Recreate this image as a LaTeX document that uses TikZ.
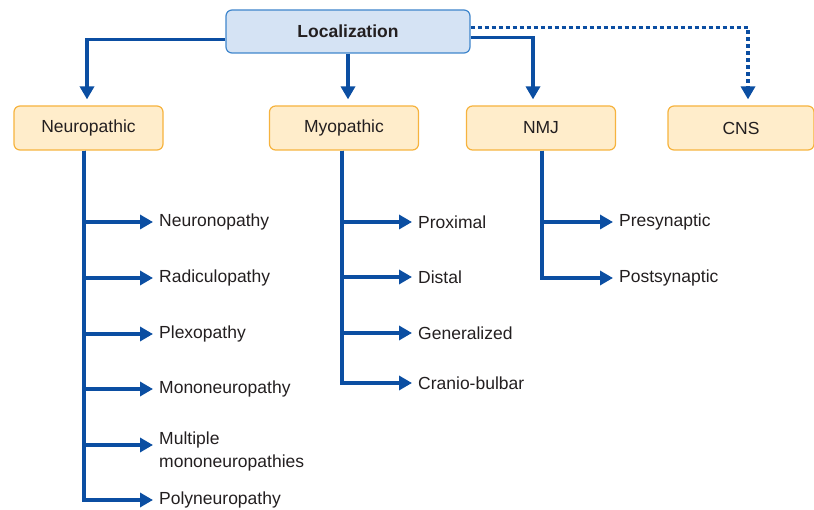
\documentclass[tikz,border=0pt]{standalone}
\usepackage{fontspec}
\setmainfont{Liberation Sans}
\usetikzlibrary{arrows.meta,positioning}

\definecolor{linkblue}{HTML}{0B4EA2}
\definecolor{rootfill}{HTML}{D5E3F4}
\definecolor{rootline}{HTML}{3F86CC}
\definecolor{catfill}{HTML}{FFEDCB}
\definecolor{catline}{HTML}{F6B33E}
\definecolor{txtgray}{HTML}{231F20}

\begin{document}
\begin{tikzpicture}[x=1pt,y=-1pt,
    font=\fontsize{17.5}{20}\selectfont,
    every node/.style={text=txtgray},
    rootbox/.style={draw=rootline, fill=rootfill, rounded corners=6pt, line width=1.2pt,
        minimum width=244pt, minimum height=43pt, font=\fontsize{17.5}{20}\selectfont\bfseries},
    catbox/.style={draw=catline, fill=catfill, rounded corners=6pt, line width=1.2pt,
        minimum width=149pt, minimum height=44pt},
    leaf/.style={anchor=west, inner xsep=6pt, inner ysep=1pt, align=left},
    link/.style={draw=linkblue, line width=3.3pt, -{Triangle[length=13pt,width=14pt]}},
    dotlink/.style={link, dash pattern=on 4pt off 3pt},
    ]
    \useasboundingbox (0,0) rectangle (814,510);
    \def\Ynp{-8}  % offset of left link at root
    \def\Xleaf{6} % gap arrow / box

    % top level
    \node[rootbox] (root) at (348,31.5) {Localization};
    \node[catbox] (np) at (88.5,128) {Neuropathic};
    \node[catbox] (myo) at (344,128) {Myopathic};
    \node[catbox] (nmj) at (541,128) {NMJ};
    \node[catbox, minimum width=146pt] (cns) at (741,128) {CNS};

    \draw[link, shorten >=\Xleaf pt] ([yshift=\Ynp pt]root.west) -| ([xshift=-1.5pt]np.north);
    \draw[link, shorten >=\Xleaf pt] (root.south) -- (root.south |- myo.north);
    \draw[link, shorten >=\Xleaf pt] ([yshift=-6pt]root.east) -| ([xshift=-8pt]nmj.north);
    \draw[dotlink, shorten >=\Xleaf pt] ([yshift=4pt]root.east) -| ([xshift=7pt]cns.north);

    % neuropathic
    \foreach \y/\name/\txt in {222/np1/Neuronopathy, 278/np2/Radiculopathy,
        334/np3/Plexopathy, 389/np4/Mononeuropathy, 500/np6/Polyneuropathy} {
        \node[leaf] (\name) at (153,\y) {\txt};
        \draw[link] ([xshift=-4.5pt]np.south) |- (\name.west);
    }
    \node[leaf, font=\fontsize{17.5}{23}\selectfont] (np5) at (153,451) {Multiple\\mononeuropathies};
    \draw[link] ([xshift=-4.5pt]np.south) |- ([yshift=6pt]np5.west);

    % myopathic
    \foreach \y/\name/\txt in {222/my1/Proximal, 277/my2/Distal,
        333/my3/Generalized, 383/my4/Cranio-bulbar} {
        \node[leaf] (\name) at (412,\y) {\txt};
        \draw[link] ([xshift=-2pt]myo.south) |- (\name.west);
    }

    % nmj
    \foreach \y/\name/\txt in {222/nj1/Presynaptic, 278/nj2/Postsynaptic} {
        \node[leaf] (\name) at (613,\y) {\txt};
        \draw[link] ([xshift=1pt]nmj.south) |- (\name.west);
    }
\end{tikzpicture}
\end{document}
